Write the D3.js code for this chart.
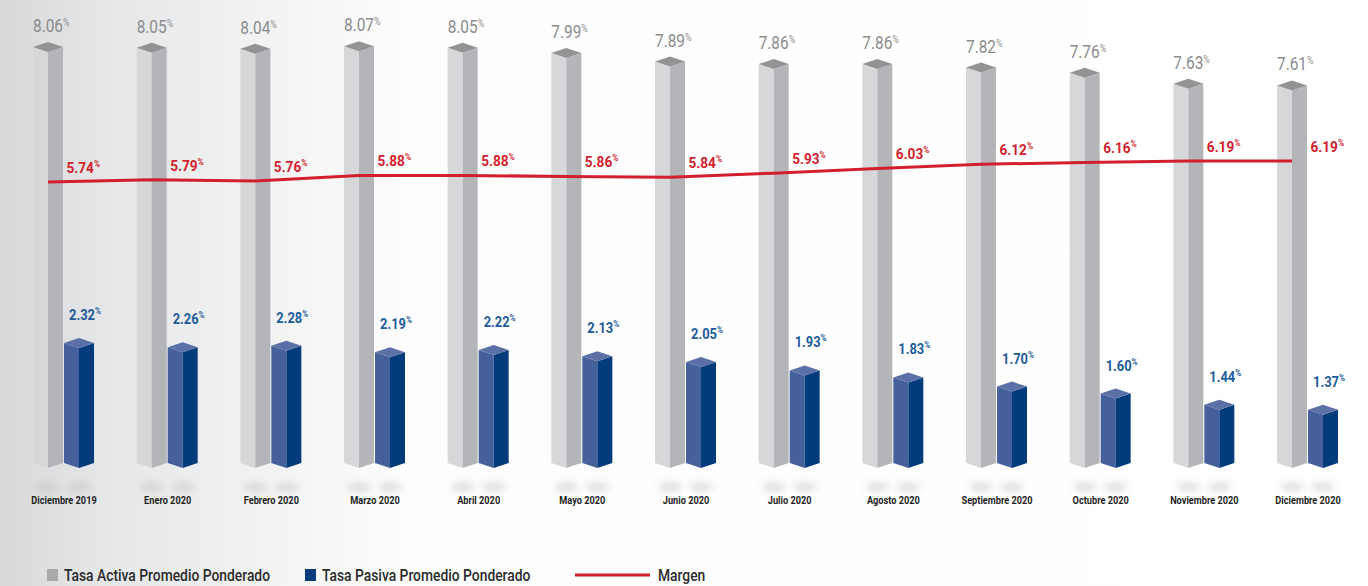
<!DOCTYPE html>
<html>
<head>
<meta charset="utf-8">
<script src="https://cdn.jsdelivr.net/npm/d3@7"></script>
<style>
  html, body { margin: 0; padding: 0; background: #fff; }
  svg { display: block; }
  text { font-family: Roboto, "Open Sans", sans-serif; }
</style>
</head>
<body>
<svg id="chart" width="1368" height="586"></svg>
<script>
const months = ["Diciembre 2019","Enero 2020","Febrero 2020","Marzo 2020","Abril 2020","Mayo 2020","Junio 2020","Julio 2020","Agosto 2020","Septiembre 2020","Octubre 2020","Noviembre 2020","Diciembre 2020"];
const activa = [8.06,8.05,8.04,8.07,8.05,7.99,7.89,7.86,7.86,7.82,7.76,7.63,7.61];
const pasiva = [2.32,2.26,2.28,2.19,2.22,2.13,2.05,1.93,1.83,1.70,1.60,1.44,1.37];
const margen = [5.74,5.79,5.76,5.88,5.88,5.86,5.84,5.93,6.03,6.12,6.16,6.19,6.19];
const legendLabels = ["Tasa Activa Promedio Ponderado","Tasa Pasiva Promedio Ponderado","Margen"];

const svg = d3.select("#chart");
const W = 1368, H = 586;

const defs = svg.append("defs");
const bg = defs.append("linearGradient").attr("id","bg").attr("x1","0").attr("x2","1").attr("y1","0").attr("y2","0");
bg.append("stop").attr("offset","0").attr("stop-color","#d7d8da");
bg.append("stop").attr("offset","0.08").attr("stop-color","#e6e7e8");
bg.append("stop").attr("offset","0.3").attr("stop-color","#fdfdfd");
bg.append("stop").attr("offset","1").attr("stop-color","#ffffff");
const blur = defs.append("filter").attr("id","blur").attr("x","-50%").attr("y","-100%").attr("width","200%").attr("height","300%");
blur.append("feGaussianBlur").attr("stdDeviation","3.5");
svg.append("rect").attr("width",W).attr("height",H).attr("fill","url(#bg)");

// scales
const x = d3.scalePoint().domain(months).range([63.5, 1307.5]);
const yBase = 463;
const yA = d3.scaleLinear().domain([3.19, 8.06]).range([yBase, 47]);
const yP = d3.scaleLinear().domain([0.613, 2.32]).range([yBase, 343]);
const yM = d3.scaleLinear().domain([5.74, 6.19]).range([182, 161]);

const fw = 15, d = 5;
const fmt = d3.format(".2f");

function ctext(g, xx, yy, sx) {
  return g.append("text").attr("transform", `translate(${xx},${yy}) scale(${sx},1)`);
}

function bar(g, x0, yTop, cFront, cSide, cTop) {
  const xm = x0 + fw, x1 = x0 + 2*fw;
  g.append("polygon").attr("points", [[x0,yTop],[xm,yTop+d],[xm,yBase+d],[x0,yBase]].join(" ")).attr("fill", cFront);
  g.append("polygon").attr("points", [[xm,yTop+d],[x1,yTop],[x1,yBase],[xm,yBase+d]].join(" ")).attr("fill", cSide);
  g.append("polygon").attr("points", [[x0,yTop],[xm,yTop-d],[x1,yTop],[xm,yTop+d]].join(" ")).attr("fill", cTop);
}

// shadows
const sh = svg.append("g").attr("filter","url(#blur)").attr("opacity",0.45);
months.forEach((m) => {
  const c = x(m);
  sh.append("ellipse").attr("cx", c - 15.5).attr("cy", 487).attr("rx", 12).attr("ry", 4.5).attr("fill", "#b9babc");
  sh.append("ellipse").attr("cx", c + 15.5).attr("cy", 487).attr("rx", 12).attr("ry", 4.5).attr("fill", "#b9babc");
});

const bars = svg.append("g");
months.forEach((m, i) => {
  const c = x(m);
  bar(bars, c - 30.5, yA(activa[i]), "#d6d7d9", "#b4b5b8", "#929395");
  bar(bars, c + 0.5, yP(pasiva[i]), "#45609a", "#033b7b", "#5b70a6");
});

// labels activa
const la = svg.append("g");
months.forEach((m, i) => {
  const c = x(m);
  const t = ctext(la, c - 30.5, yA(activa[i]) - 15, 0.88)
    .attr("fill", "#8b8c8e").attr("font-size", 17.5);
  t.append("tspan").text(fmt(activa[i]));
  t.append("tspan").text("%").attr("font-size", 10).attr("dy", -6);
});

// labels pasiva
const lp = svg.append("g");
months.forEach((m, i) => {
  const c = x(m);
  const t = ctext(lp, c + 5.5, yP(pasiva[i]) - 23, 0.86)
    .attr("fill", "#1d5c9b").attr("font-size", 15).attr("font-weight", "bold");
  t.append("tspan").text(fmt(pasiva[i]));
  t.append("tspan").text("%").attr("font-size", 9.5).attr("dy", -6);
});

// margen line
const line = d3.line().x((v, i) => x(months[i]) - 15.5).y(v => yM(v));
svg.append("path").datum(margen).attr("d", line).attr("fill", "none")
  .attr("stroke", "#d21f2e").attr("stroke-width", 3);

const lm = svg.append("g");
months.forEach((m, i) => {
  const c = x(m);
  const t = ctext(lm, c + 3, yM(margen[i]) - 9, 0.88)
    .attr("fill", "#d21f2e").attr("font-size", 15.5).attr("font-weight", "bold");
  t.append("tspan").text(fmt(margen[i]));
  t.append("tspan").text("%").attr("font-size", 9.5).attr("dy", -6);
});

// x axis labels
const xa = svg.append("g").attr("transform", `translate(0,${504})`);
xa.call(d3.axisBottom(x).tickSize(0).tickPadding(0));
xa.select(".domain").remove();
xa.selectAll(".tick text").attr("fill", "#1f1f1f").attr("font-size", 11.5).attr("font-weight", "bold")
  .attr("dy", 0).attr("y", 0).attr("transform", "scale(0.8,1)");

// legend
const lg = svg.append("g").attr("transform", "translate(0,575)");
lg.append("rect").attr("x", 47).attr("y", -6).attr("width", 11).attr("height", 12).attr("fill", "#a9aaac");
ctext(lg, 64, 6, 0.84).text(legendLabels[0]).attr("font-size", 16.5).attr("font-weight", 500).attr("fill", "#2b2b2b");
lg.append("rect").attr("x", 305).attr("y", -6).attr("width", 11).attr("height", 12).attr("fill", "#063c7c");
ctext(lg, 322, 6, 0.84).text(legendLabels[1]).attr("font-size", 16.5).attr("font-weight", 500).attr("fill", "#2b2b2b");
lg.append("line").attr("x1", 575).attr("x2", 650).attr("y1", 0).attr("y2", 0).attr("stroke", "#d21f2e").attr("stroke-width", 3);
ctext(lg, 658, 6, 0.84).text(legendLabels[2]).attr("font-size", 16.5).attr("font-weight", 500).attr("fill", "#2b2b2b");
</script>
</body>
</html>
